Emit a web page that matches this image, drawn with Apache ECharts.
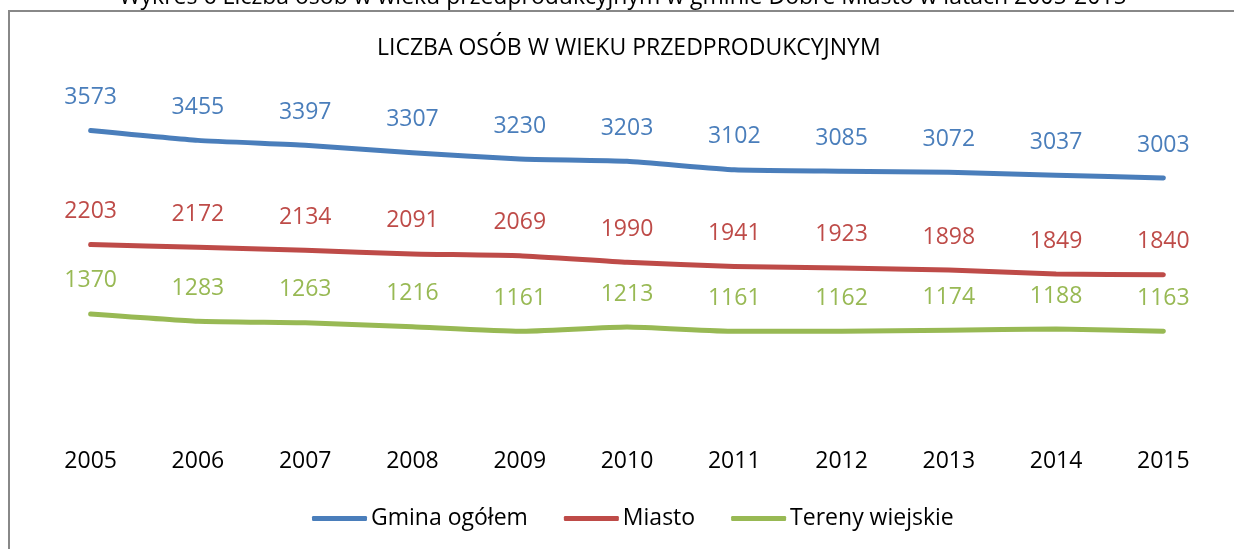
<!DOCTYPE html>
<html>
<head>
<meta charset="utf-8">
<script src="https://cdn.jsdelivr.net/npm/echarts@6/dist/echarts.min.js"></script>
<style>
  html, body { margin: 0; padding: 0; background: #fff; }
  #chart { width: 1234px; height: 549px; }
</style>
</head>
<body>
<div id="chart"></div>
<script>
const years = ['2005','2006','2007','2008','2009','2010','2011','2012','2013','2014','2015'];
const gminaOgolem = [3573, 3455, 3397, 3307, 3230, 3203, 3102, 3085, 3072, 3037, 3003];
const miasto = [2203, 2172, 2134, 2091, 2069, 1990, 1941, 1923, 1898, 1849, 1840];
const terenyWiejskie = [1370, 1283, 1263, 1216, 1161, 1213, 1161, 1162, 1174, 1188, 1163];
const seriesNames = ['Gmina ogółem', 'Miasto', 'Tereny wiejskie'];
const chartTitle = 'LICZBA OSÓB W WIEKU PRZEDPRODUKCYJNYM';
const captionText = 'Wykres 6 Liczba osób w wieku przedprodukcyjnym w gminie Dobre Miasto w latach 2005-2015';

const FONT = '"Open Sans", "Noto Sans", sans-serif';
const colors = ['#4a7ebb', '#be4b48', '#98b954'];

function makeSeries(name, data, color) {
  return {
    name: name,
    type: 'line',
    data: data,
    smooth: 0.15,
    symbol: 'circle',
    symbolSize: 1,
    itemStyle: { color: color },
    lineStyle: { color: color, width: 5, cap: 'round', join: 'round' },
    label: {
      show: true,
      position: 'top',
      distance: 21,
      color: color,
      fontFamily: FONT,
      fontSize: 23
    },
    emphasis: { disabled: true },
    animation: false
  };
}

const chart = echarts.init(document.getElementById('chart'), null, { renderer: 'canvas' });
chart.setOption({
  backgroundColor: '#ffffff',
  animation: false,
  title: {
    text: chartTitle,
    left: 372,
    top: 32,
    textStyle: { fontFamily: FONT, fontSize: 23, fontWeight: 'normal', color: '#000' }
  },
  graphic: [
    {
      type: 'text',
      x: 623,
      y: 9,
      style: {
        text: captionText,
        align: 'center',
        verticalAlign: 'bottom',
        fontFamily: FONT,
        fontSize: 23,
        fill: '#000'
      }
    },
    {
      type: 'polyline',
      shape: { points: [[9, 560], [9, 11], [1240, 11]] },
      style: { stroke: '#888888', lineWidth: 2, fill: null }
    }
  ],
  legend: {
    data: seriesNames,
    bottom: 14,
    left: 307,
    icon: 'roundRect',
    itemWidth: 55,
    itemHeight: 5,
    itemGap: 36,
    textStyle: { fontFamily: FONT, fontSize: 23, color: '#000', padding: [0, 0, 0, -1] }
  },
  grid: { left: 37, right: 17, top: 95, bottom: 121, containLabel: false },
  xAxis: {
    type: 'category',
    data: years,
    boundaryGap: true,
    axisLine: { show: false },
    axisTick: { show: false },
    axisLabel: { margin: 22, color: '#000', fontFamily: FONT, fontSize: 23 },
    splitLine: { show: false }
  },
  yAxis: {
    type: 'value',
    min: 0,
    max: 4000,
    interval: 1000,
    show: false,
    splitLine: { show: false }
  },
  series: [
    makeSeries(seriesNames[0], gminaOgolem, colors[0]),
    makeSeries(seriesNames[1], miasto, colors[1]),
    makeSeries(seriesNames[2], terenyWiejskie, colors[2])
  ]
});
</script>
</body>
</html>
